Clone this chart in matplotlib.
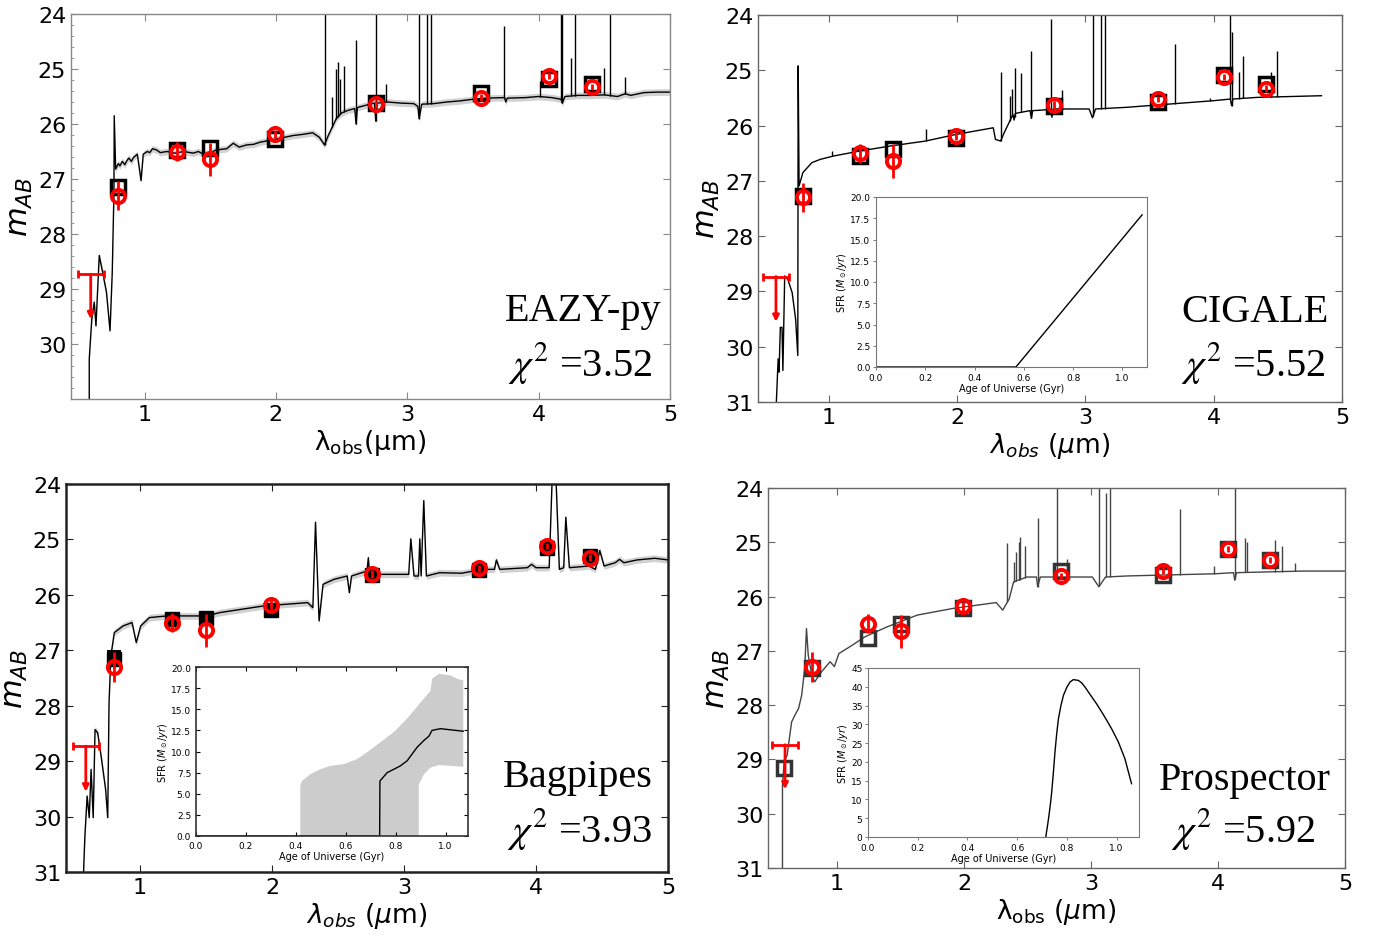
import numpy as np
import matplotlib
matplotlib.use('Agg')
import matplotlib.pyplot as plt
from matplotlib.ticker import AutoMinorLocator, MultipleLocator

# observed photometry (same galaxy in every panel)
obs_wave = [0.80, 1.245, 1.50, 1.99, 2.76, 3.565, 4.08, 4.41]
obs_mag = [27.30, 26.50, 26.64, 26.18, 25.63, 25.52, 25.12, 25.33]
obs_err = [0.27, 0.17, 0.30, 0.08, 0.07, 0.06, 0.06, 0.06]
ul_wave, ul_mag, ul_xerr, ul_tip = 0.59, 28.73, 0.10, 29.55

# EAZY-py
eazy_wave = [0.579, 0.579, 0.598, 0.617, 0.630, 0.655, 0.680, 0.710, 0.737, 0.754,
             0.767, 0.769, 0.780, 0.800, 0.813, 0.830, 0.850, 0.864, 0.880, 0.900,
             0.915, 0.930, 0.945, 0.973, 0.990, 1.020, 1.040, 1.060, 1.090, 1.120,
             1.170, 1.230, 1.300, 1.370, 1.410, 1.447, 1.500, 1.550, 1.625, 1.675,
             1.720, 1.777, 1.830, 1.880, 1.950, 2.005, 2.070, 2.130, 2.200, 2.280,
             2.330, 2.370, 2.400, 2.430, 2.460, 2.500, 2.550, 2.600, 2.610, 2.620,
             2.700, 2.750, 2.760, 2.770, 2.850, 2.950, 3.050, 3.080, 3.090, 3.110,
             3.200, 3.300, 3.400, 3.500, 3.600, 3.740, 3.750, 3.760, 3.900, 4.000,
             4.100, 4.170, 4.180, 4.200, 4.300, 4.400, 4.500, 4.600, 4.660, 4.700,
             4.800, 4.900, 5.000]
eazy_mag = [31.00, 30.27, 29.55, 29.24, 29.67, 28.39, 28.69, 29.06, 29.76, 28.70,
            27.24, 25.85, 26.82, 26.72, 26.76, 26.68, 26.74, 26.67, 26.62, 26.68,
            26.61, 26.58, 26.55, 27.03, 26.55, 26.50, 26.52, 26.45, 26.47, 26.52,
            26.50, 26.53, 26.50, 26.53, 26.50, 26.55, 26.52, 26.47, 26.45, 26.35,
            26.42, 26.38, 26.37, 26.33, 26.30, 26.27, 26.24, 26.21, 26.19, 26.16,
            26.24, 26.38, 26.20, 26.05, 25.90, 25.80, 25.75, 25.72, 26.00, 25.70,
            25.65, 25.62, 25.95, 25.62, 25.60, 25.62, 25.63, 25.68, 25.90, 25.64,
            25.63, 25.60, 25.58, 25.55, 25.53, 25.52, 25.60, 25.53, 25.52, 25.50,
            25.52, 25.55, 25.62, 25.50, 25.48, 25.48, 25.47, 25.50, 25.45, 25.48,
            25.43, 25.42, 25.42]
eazy_line_wave = [2.37, 2.43, 2.46, 2.47, 2.49, 2.52, 2.61, 2.76, 2.84, 3.09, 3.15,
                  3.18, 3.74, 4.01, 4.17, 4.18, 4.25, 4.28, 4.50, 4.54, 4.66]
eazy_line_top = [23.5, 25.5, 25.0, 24.88, 25.18, 24.94, 24.48, 23.5, 25.27, 23.5, 23.5,
                 23.5, 24.21, 25.21, 23.5, 23.5, 24.8, 23.5, 24.98, 23.5, 25.15]
eazy_model = [27.14, 26.47, 26.44, 26.27, 25.62, 25.44, 25.18, 25.27]

# CIGALE
cig_wave = [0.593, 0.607, 0.614, 0.624, 0.637, 0.644, 0.658, 0.682, 0.716, 0.743,
            0.760, 0.763, 0.770, 0.800, 0.870, 0.937, 1.040, 1.244, 1.480, 1.755,
            1.993, 2.283, 2.300, 2.340, 2.368, 2.436, 2.445, 2.455, 2.500, 2.570,
            2.580, 2.590, 2.730, 2.740, 2.750, 2.980, 3.030, 3.056, 3.080, 3.320,
            3.660, 4.000, 4.130, 4.140, 4.150, 4.340, 4.840]
cig_mag = [31.00, 30.22, 30.46, 29.65, 29.65, 30.43, 28.72, 28.78, 29.02, 29.50,
           30.16, 24.92, 27.09, 26.85, 26.67, 26.61, 26.55, 26.46, 26.37, 26.28,
           26.16, 26.04, 26.25, 26.28, 26.13, 25.80, 25.90, 25.78, 25.76, 25.73,
           25.87, 25.73, 25.71, 25.85, 25.70, 25.70, 25.70, 25.86, 25.70, 25.67,
           25.61, 25.55, 25.52, 25.64, 25.52, 25.49, 25.46]
cig_line_wave = [1.03, 1.76, 2.34, 2.41, 2.43, 2.45, 2.50, 2.58, 2.73, 2.82, 3.06,
                 3.12, 3.15, 3.70, 3.97, 4.13, 4.14, 4.20, 4.23, 4.45, 4.49, 4.61]
cig_line_top = [26.46, 26.07, 25.04, 25.46, 25.34, 24.96, 25.05, 24.65, 24.07, 25.36, 23.5,
                23.5, 23.5, 24.53, 25.50, 23.5, 24.30, 25.04, 24.74, 25.04, 24.66, 25.46]
cig_model = [27.27, 26.55, 26.43, 26.23, 25.64, 25.58, 25.09, 25.25]
cig_age = [0.0, 0.568, 1.08]
cig_sfr = [0.0, 0.0, 17.9]

# Bagpipes
bag_wave = [0.573, 0.583, 0.600, 0.616, 0.630, 0.646, 0.660, 0.680, 0.706, 0.740,
            0.756, 0.766, 0.780, 0.806, 0.873, 0.940, 0.972, 1.006, 1.072, 1.205,
            1.340, 1.505, 1.605, 1.770, 1.937, 2.104, 2.270, 2.310, 2.330, 2.357,
            2.387, 2.470, 2.570, 2.586, 2.603, 2.720, 2.730, 2.740, 2.936, 3.036,
            3.052, 3.076, 3.110, 3.120, 3.130, 3.150, 3.170, 3.270, 3.435, 3.600,
            3.685, 3.700, 3.725, 3.934, 3.967, 4.000, 4.100, 4.124, 4.150, 4.177,
            4.210, 4.226, 4.253, 4.400, 4.450, 4.483, 4.516, 4.600, 4.633, 4.666,
            4.766, 4.900, 5.000]
bag_mag = [31.00, 30.36, 29.63, 30.02, 29.15, 30.02, 28.43, 28.49, 28.91, 29.51,
           30.02, 27.95, 27.10, 26.68, 26.56, 26.50, 26.86, 26.56, 26.41, 26.38,
           26.38, 26.38, 26.32, 26.26, 26.20, 26.17, 26.14, 26.23, 24.69, 26.47,
           25.81, 25.72, 25.66, 25.96, 25.66, 25.57, 25.33, 25.63, 25.63, 25.63,
           24.99, 25.66, 25.66, 24.99, 25.66, 24.30, 25.66, 25.60, 25.61, 25.54,
           25.54, 25.37, 25.54, 25.51, 25.45, 25.51, 25.51, 23.80, 23.80, 25.54,
           25.51, 24.60, 25.51, 25.48, 25.54, 25.20, 25.48, 25.42, 25.36, 25.42,
           25.37, 25.34, 25.37]
bag_model = [27.15, 26.44, 26.41, 26.27, 25.64, 25.55, 25.15, 25.30]
bag_model_err = [0.15, 0.09, 0.09, 0.08, 0.07, 0.07, 0.08, 0.07]
bag_age = [0.0, 0.736, 0.737, 0.766, 0.793, 0.819, 0.846, 0.866, 0.886, 0.913,
           0.933, 0.946, 0.980, 1.071]
bag_sfr = [0.0, 0.0, 6.5, 7.5, 7.9, 8.3, 8.9, 9.7, 10.5, 11.3, 11.8, 12.5, 12.7, 12.4]
bag_hi_age = [0.418, 0.418, 0.424, 0.458, 0.498, 0.538, 0.592, 0.645, 0.685, 0.739,
              0.793, 0.846, 0.900, 0.940, 0.946, 0.973, 1.020, 1.047, 1.071]
bag_hi = [0.0, 5.9, 6.5, 7.3, 7.9, 8.3, 8.5, 9.1, 9.9, 11.1, 12.3, 13.9, 15.8, 17.2,
          18.6, 19.2, 19.0, 18.6, 18.4]
bag_lo_age = [0.418, 0.893, 0.893, 0.913, 0.940, 0.973, 1.071]
bag_lo = [0.0, 0.0, 6.1, 7.3, 8.1, 8.4, 8.2]

# Prospector
pro_wave = [0.570, 0.570, 0.583, 0.607, 0.628, 0.642, 0.669, 0.697, 0.721, 0.745,
            0.759, 0.773, 0.800, 0.824, 0.876, 0.945, 0.979, 1.014, 1.117, 1.220,
            1.392, 1.633, 1.909, 2.253, 2.305, 2.356, 2.390, 2.494, 2.570, 2.580,
            2.600, 2.770, 3.010, 3.062, 3.114, 3.286, 3.630, 3.974, 4.122, 4.132,
            4.145, 4.662, 5.000]
pro_mag = [31.00, 29.47, 29.04, 28.92, 28.55, 28.31, 28.18, 28.06, 27.82, 27.33,
           26.59, 27.08, 27.45, 27.57, 27.39, 27.20, 27.29, 27.05, 26.90, 26.74,
           26.56, 26.34, 26.22, 26.11, 26.25, 26.04, 25.73, 25.64, 25.64, 25.82,
           25.64, 25.64, 25.64, 25.82, 25.64, 25.62, 25.60, 25.58, 25.56, 25.70,
           25.56, 25.53, 25.53]
pro_line_wave = [2.34, 2.39, 2.41, 2.43, 2.44, 2.48, 2.58, 2.73, 2.81, 3.06, 3.12,
                 3.15, 3.70, 3.97, 4.13, 4.21, 4.23, 4.45, 4.50, 4.61]
pro_line_top = [25.02, 25.36, 25.18, 24.99, 24.90, 25.06, 24.56, 23.5, 25.31, 23.5, 24.10,
                23.5, 24.38, 25.44, 23.5, 24.93, 24.99, 24.96, 25.07, 25.39]
pro_model_wave = [0.58, 0.80, 1.245, 1.50, 1.99, 2.76, 3.565, 4.08, 4.41]
pro_model = [29.15, 27.31, 26.77, 26.50, 26.21, 25.53, 25.61, 25.13, 25.33]
pro_age = [0.715, 0.722, 0.728, 0.734, 0.739, 0.746, 0.752, 0.759, 0.766, 0.776,
           0.786, 0.800, 0.813, 0.826, 0.846, 0.860, 0.873, 0.900, 0.920, 0.940,
           0.960, 0.980, 1.007, 1.033, 1.060]
pro_sfr = [0.0, 3.0, 5.8, 9.0, 12.0, 17.5, 22.6, 27.5, 31.5, 35.0, 37.7, 39.9, 41.3,
           41.9, 41.7, 41.0, 39.9, 37.3, 35.4, 33.3, 31.1, 28.8, 25.3, 20.9, 14.2]

W, H = 1375, 937
fig = plt.figure(figsize=(W / 100, H / 100), dpi=100)


def px_axes(left, right, top, bottom):
    return fig.add_axes([left / W, 1 - bottom / H, (right - left) / W, (bottom - top) / H])


def setup_sed(ax, xlo, yticks, spine_color, spine_lw, xlabel):
    ax.set_xlim(xlo, 5)
    ax.set_ylim(31, 24)
    ax.set_yticks(yticks)
    ax.set_xticks([1, 2, 3, 4, 5])
    ax.tick_params(direction='in', length=5, labelsize=16, top=True, right=True,
                   color=spine_color)
    for s in ax.spines.values():
        s.set_color(spine_color)
        s.set_linewidth(spine_lw)
    ax.set_xlabel(xlabel, fontsize=19, labelpad=2)
    ax.set_ylabel(r'$m_{AB}$', fontsize=22, labelpad=2)


def draw_spectrum(ax, wave, mag, color='black', band=False, line_wave=None, line_top=None):
    wave = np.array(wave)
    mag = np.array(mag)
    if band:
        ax.fill_between(wave, mag - 0.06, mag + 0.06, color='0.82', lw=0, zorder=1)
    ax.plot(wave, mag, color=color, lw=1.0, zorder=2)
    if line_wave is not None:
        base = np.interp(line_wave, wave, mag)
        ax.vlines(line_wave, base, line_top, color=color, lw=1.0, zorder=2)


def draw_obs(ax):
    ax.errorbar(obs_wave, obs_mag, yerr=obs_err, fmt='o', mfc='none', mec='red',
                ecolor='red', ms=9.5, mew=2.8, elinewidth=2, capsize=0, zorder=6)
    ax.errorbar([ul_wave], [ul_mag], xerr=[ul_xerr], fmt='none', ecolor='red',
                elinewidth=2, capsize=3, capthick=2, zorder=6)
    ax.annotate('', xy=(ul_wave, ul_tip), xytext=(ul_wave, ul_mag),
                arrowprops=dict(arrowstyle='-|>', color='red', lw=2, mutation_scale=9,
                                shrinkA=0, shrinkB=0), zorder=6)


def add_names(ax, name, chi, xn, yn, xc, yc):
    ax.text(xn, yn, name, transform=ax.transAxes, ha='right', va='center',
            family='Liberation Serif', fontsize=29)
    ax.text(xc, yc, r'$\chi^{2}$ =' + chi, transform=ax.transAxes, ha='right', va='center',
            family='Liberation Serif', fontsize=29, math_fontfamily='stix')


def setup_inset(ax, ylim, ystep, classic=False):
    ax.set_xlim(0, 1.09)
    ax.set_ylim(0, ylim)
    ax.xaxis.set_major_locator(MultipleLocator(0.2))
    ax.yaxis.set_major_locator(MultipleLocator(ystep))
    ax.xaxis.set_major_formatter(plt.FormatStrFormatter('%.1f'))
    if ystep < 5:
        ax.yaxis.set_major_formatter(plt.FormatStrFormatter('%.1f'))
    ax.set_xlabel('Age of Universe (Gyr)', fontsize=7, labelpad=1)
    ax.set_ylabel(r'SFR ($M_\odot/yr$)', fontsize=7, labelpad=1)
    if classic:
        ax.tick_params(direction='in', length=3, labelsize=6.5, top=True, right=True)
        for s in ax.spines.values():
            s.set_color('#333333')
            s.set_linewidth(1.2)
    else:
        ax.tick_params(length=2.5, width=0.6, labelsize=6.5, pad=1.5, color='#666666')
        for s in ax.spines.values():
            s.set_color('#777777')
            s.set_linewidth(0.8)


# EAZY-py
ax1 = px_axes(71, 670, 15, 400)
draw_spectrum(ax1, eazy_wave, eazy_mag, band=True, line_wave=eazy_line_wave, line_top=eazy_line_top)
ax1.plot(obs_wave, eazy_model, 's', mfc='none', mec='black', ms=10, mew=2.5, zorder=5)
draw_obs(ax1)
setup_sed(ax1, 0.44, [24, 25, 26, 27, 28, 29, 30], '#888888', 1.0, 'λ$_{\\rm obs}$(μm)')
ax1.yaxis.set_minor_locator(AutoMinorLocator(5))
ax1.tick_params(which='minor', direction='in', length=2.5, color='#888888')
add_names(ax1, 'EAZY-py', '3.52', 0.985, 0.229, 0.97, 0.096)

# CIGALE
ax2 = px_axes(758, 1342, 16, 403)
draw_spectrum(ax2, cig_wave, cig_mag, line_wave=cig_line_wave, line_top=cig_line_top)
ax2.plot(obs_wave, cig_model, 's', mfc='none', mec='black', ms=10, mew=2.5, zorder=5)
draw_obs(ax2)
setup_sed(ax2, 0.45, [24, 25, 26, 27, 28, 29, 30, 31], '#666666', 1.0,
          r'$\lambda_{obs}$ ($\mu$m)')
add_names(ax2, 'CIGALE', '5.52', 0.978, 0.233, 0.971, 0.103)
in2 = px_axes(876, 1147, 198, 368)
in2.plot(cig_age, cig_sfr, color='black', lw=1.0)
setup_inset(in2, 20, 2.5)
in2.set_xlim(0, 1.1)

# Bagpipes
ax3 = px_axes(66, 668, 485, 873)
draw_spectrum(ax3, bag_wave, bag_mag, band=True)
ax3.errorbar(obs_wave, bag_model, yerr=bag_model_err, fmt='s', mfc='black', mec='black',
             ms=10, ecolor='black', elinewidth=10, capsize=0, zorder=5)
draw_obs(ax3)
setup_sed(ax3, 0.44, [24, 25, 26, 27, 28, 29, 30, 31], '#222222', 1.8,
          r'$\lambda_{obs}$ ($\mu$m)')
add_names(ax3, 'Bagpipes', '3.93', 0.975, 0.247, 0.973, 0.113)
in3 = px_axes(196, 468, 668, 837)
in3.fill(np.r_[bag_hi_age, bag_lo_age[::-1]], np.r_[bag_hi, bag_lo[::-1]],
         color='#cccccc', lw=0)
in3.plot(bag_age, bag_sfr, color='black', lw=1.0)
setup_inset(in3, 20, 2.5, classic=True)

# Prospector
ax4 = px_axes(768, 1345, 489, 869)
draw_spectrum(ax4, pro_wave, pro_mag, color='#444444', line_wave=pro_line_wave,
              line_top=pro_line_top)
ax4.plot(pro_model_wave, pro_model, 's', mfc='none', mec='#333333', ms=10, mew=2.5, zorder=5)
draw_obs(ax4)
setup_sed(ax4, 0.456, [24, 25, 26, 27, 28, 29, 30, 31], '#666666', 1.0,
          'λ$_{\\rm obs}$ ($\\mu$m)')
add_names(ax4, 'Prospector', '5.92', 0.976, 0.234, 0.948, 0.105)
in4 = px_axes(868, 1139, 669, 838)
in4.plot(pro_age, pro_sfr, color='black', lw=1.0)
setup_inset(in4, 45, 5)

fig.savefig('out.png', dpi=100)
